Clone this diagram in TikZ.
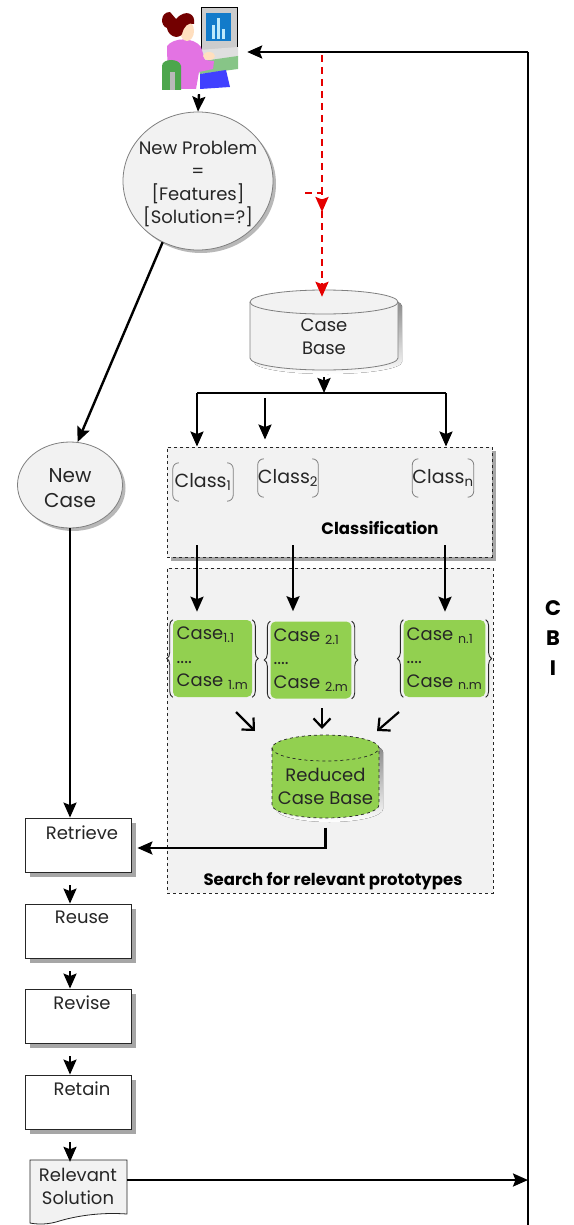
\documentclass[tikz,border=0pt]{standalone}
\usepackage{fontspec}
\setmainfont{Poppins}
\usetikzlibrary{shapes.geometric,shadows,arrows.meta,decorations.pathreplacing}

\definecolor{paleg}{HTML}{F2F2F2}
\definecolor{leaf}{HTML}{92D050}
\definecolor{ink}{HTML}{262626}
\definecolor{rim}{HTML}{7F7F7F}
\definecolor{shade}{HTML}{A6A6A6}

\tikzset{
  lbl/.style={font=\fontsize{18}{23}\selectfont, text=ink, align=center},
  flow/.style={line width=2.4pt, -{Stealth[length=15pt,width=13pt,inset=2.5pt]}},
  wire/.style={line width=2.4pt},
  redflow/.style={line width=2.4pt, red!90!black, dash pattern=on 7pt off 5pt,
                  -{Stealth[length=15pt,width=13pt,inset=2.5pt]}},
  vee/.style={line width=2.2pt, -{Straight Barb[length=9pt,width=17pt]}},
  bubble/.style={ellipse, draw=rim, fill=paleg, line width=0.8pt, inner sep=0pt,
                 drop shadow={shadow xshift=3pt, shadow yshift=-3pt, fill=shade, opacity=0.8}},
  stepbox/.style={rectangle, draw=ink, fill=white, line width=0.8pt,
                  minimum width=106pt, minimum height=54pt,
                  drop shadow={shadow xshift=5pt, shadow yshift=-5pt, fill=shade, opacity=1}},
  panel/.style={rectangle, draw=ink, dashed, fill=paleg, line width=0.9pt},
  casebox/.style={rectangle, rounded corners=5pt, fill=leaf, line width=0.6pt,
                  minimum width=79pt, minimum height=77pt, inner sep=3pt,
                  font=\fontsize{18}{23.5}\selectfont, text=ink, align=left},
  brace/.style={decorate, decoration={brace, amplitude=6pt}, line width=0.9pt, ink},
  brk/.style={line width=0.8pt, rim, rounded corners=6pt},
  classlbl/.style={font=\fontsize{19}{22}\selectfont, text=ink,
                   minimum width=60pt, minimum height=38pt, inner sep=0pt},
  heading/.style={font=\bfseries\fontsize{16.5}{19}\selectfont, text=black},
}

\begin{document}
\begin{tikzpicture}[x=1pt,y=-1pt]
\useasboundingbox (0,0) rectangle (573,1225);

% ---- user at the workstation ----
\node[minimum width=80pt, minimum height=86pt, inner sep=0pt] (user) at (199,47) {};
\begin{scope}
  \fill[gray!40] (201,7) rectangle (237,53);
  \draw[black, line width=0.5pt] (201,7) rectangle (237,53);
  \fill[cyan!60!blue] (206,13) rectangle (231,41);
  \fill[cyan!25] (212,25) rectangle (215,39);
  \fill[cyan!25] (217,18) rectangle (220,39);
  \fill[cyan!25] (222,29) rectangle (225,39);
  \fill[gray!25] (199,50) -- (238,47) -- (238,57) -- (204,62) -- cycle;
  \fill[green!35!gray!70] (196,62) -- (238,56) -- (238,69) -- (200,74) -- cycle;
  \fill[blue!75] (200,74) -- (226,70) -- (230,87) -- (200,89) -- cycle;
  \fill[violet!40!magenta!55] (167,46) .. controls (174,37) and (194,37) .. (201,47)
        -- (205,60) -- (214,61) -- (213,69) -- (199,72) -- (196,89) -- (168,89) -- cycle;
  \fill[orange!25] (209,56) ellipse (6 and 4);
  \fill[green!50!black!70] (162,66) .. controls (162,58) and (180,58) .. (181,66)
        -- (181,90) -- (162,90) -- cycle;
  \fill[gray!55] (170,72) rectangle (175,90);
  \fill[orange!25] (187,31) ellipse (7 and 10);
  \fill[red!45!black] (176,19) .. controls (186,8) and (196,14) .. (194,24)
        .. controls (188,22) and (184,26) .. (182,34) .. controls (178,40) and (168,36) .. (167,28)
        .. controls (160,26) and (160,12) .. (170,12) -- cycle;
\end{scope}

% ---- problem description ----
\node[bubble, minimum width=150pt, minimum height=138pt] (newprob) at (198,181) {};
\node[lbl] (newprobtext) at (198,184) {New Problem\\=\\{}[Features]\\{}[Solution=?]};
\node[bubble, minimum width=105pt, minimum height=86pt] (newcase) at (70,485) {};
\node[lbl, font=\fontsize{20}{25}\selectfont] (newcasetext) at (70,488) {New\\Case};

% ---- case base cylinder ----
\fill[shade] (254,306) -- (254,362) arc[start angle=180,end angle=360,x radius=74pt,y radius=12pt]
      -- (402,306) arc[start angle=0,end angle=180,x radius=74pt,y radius=12pt] -- cycle;
\fill[paleg] (250,302) -- (250,358) arc[start angle=180,end angle=360,x radius=74pt,y radius=12pt]
      -- (398,302) arc[start angle=0,end angle=180,x radius=74pt,y radius=12pt] -- cycle;
\draw[rim, line width=0.8pt] (250,302) -- (250,358) arc[start angle=180,end angle=360,x radius=74pt,y radius=12pt]
      -- (398,302) arc[start angle=0,end angle=180,x radius=74pt,y radius=12pt] -- cycle;
\draw[rim, line width=0.8pt] (250,302) arc[start angle=180,end angle=360,x radius=74pt,y radius=12pt];
\node[lbl, minimum width=148pt, minimum height=80pt] (casebase) at (324,337) {Case\\Base};

% ---- classification panel ----
\node[panel, minimum width=325pt, minimum height=110pt,
      drop shadow={shadow xshift=4pt, shadow yshift=-4pt, fill=shade, opacity=1}] (classpanel) at (329.5,502) {};
\node[heading] (classtitle) at (380,528) {Classification};
\node[classlbl] (c1) at (203,482) {Class\textsubscript{1}};
\node[classlbl] (c2) at (288,478) {Class\textsubscript{2}};
\node[classlbl] (cn) at (443,478) {Class\textsubscript{n}};
\foreach \n in {c1,c2,cn}{
  \draw[brk] ([xshift=6pt]\n.north west) -- (\n.north west) -- (\n.south west) -- ([xshift=6pt]\n.south west);
  \draw[brk] ([xshift=-6pt]\n.north east) -- (\n.north east) -- (\n.south east) -- ([xshift=-6pt]\n.south east);
}

% ---- search panel ----
\node[panel, minimum width=326pt, minimum height=325pt] (searchpanel) at (330,730.5) {};
\node[heading] (searchtitle) at (333,881) {Search for relevant prototypes};

\node[casebox] (case1) at (212.5,658.5)
  {Case\textsubscript{1.1}\\....\\Case \textsubscript{1.m}};
\node[casebox] (case2) at (311,660)
  {Case \textsubscript{2.1}\\....\\Case \textsubscript{2.m}};
\node[casebox] (casen) at (444.5,658.5)
  {Case \textsubscript{n.1}\\....\\Case \textsubscript{n.m}};
\foreach \n in {case1,case2,casen}{
  \draw[brace] (\n.south west) -- (\n.north west);
  \draw[brace] (\n.north east) -- (\n.south east);
}

% ---- reduced case base ----
\fill[shade] (276,752) -- (276,809) arc[start angle=180,end angle=360,x radius=53.5pt,y radius=13pt]
      -- (383,752) arc[start angle=0,end angle=180,x radius=53.5pt,y radius=13pt] -- cycle;
\fill[leaf] (272,748) -- (272,805) arc[start angle=180,end angle=360,x radius=53.5pt,y radius=13pt]
      -- (379,748) arc[start angle=0,end angle=180,x radius=53.5pt,y radius=13pt] -- cycle;
\draw[ink, dashed, line width=0.7pt] (272,748) -- (272,805) arc[start angle=180,end angle=360,x radius=53.5pt,y radius=13pt]
      -- (379,748) arc[start angle=0,end angle=180,x radius=53.5pt,y radius=13pt] -- cycle;
\draw[ink, dashed, line width=0.7pt] (272,748) arc[start angle=180,end angle=360,x radius=53.5pt,y radius=13pt];
\node[lbl, minimum width=107pt, minimum height=83pt] (reduced) at (325.5,786) {Reduced\\Case Base};

% ---- CBR cycle steps ----
\node[stepbox, label={[lbl, anchor=north, yshift=-5pt, xshift=4pt]north:Retrieve}] (retrieve) at (78,845) {};
\node[stepbox, label={[lbl, anchor=north, yshift=-4pt, xshift=4pt]north:Reuse}] (reuse) at (78,931) {};
\node[stepbox, label={[lbl, anchor=north, yshift=-4pt, xshift=4pt]north:Revise}] (revise) at (78,1016) {};
\node[stepbox, label={[lbl, anchor=north, yshift=-4pt, xshift=4pt]north:Retain}] (retain) at (78,1102) {};

% ---- relevant solution (document) ----
\fill[paleg] (30,1160) -- (127,1160) -- (127,1214)
   .. controls (100,1212) and (75,1216) .. (56,1222) .. controls (45,1225) and (35,1224) .. (30,1223) -- cycle;
\draw[ink, line width=0.8pt] (30,1160) -- (127,1160) -- (127,1214)
   .. controls (100,1212) and (75,1216) .. (56,1222) .. controls (45,1225) and (35,1224) .. (30,1223) -- cycle;
\node[lbl, minimum width=97pt, minimum height=50pt, inner sep=0pt] (solution) at (78,1186) {Relevant\\Solution};

% ---- CBI feedback loop ----
\coordinate (loopTop) at (528,52);
\coordinate (loopBot) at (528,1225);
\coordinate (solOut) at (127,1180);
\node[font=\bfseries\fontsize{21}{30}\selectfont, align=center] (cbi) at (553,638) {C\\B\\I};
\draw[wire] (loopTop) -- (loopBot);
\draw[flow] (loopTop) -- ([xshift=8pt]user.east |- loopTop);
\draw[flow] (solOut) -- (loopBot |- solOut);

% ---- flow from the user ----
\draw[flow] ([yshift=-4pt]user.south) -- (newprob.north);
\coordinate (redTop) at (322,55);
\coordinate (redSide) at (305,193);
\draw[redflow] (redTop) -- (redTop |- casebase.north);
\draw[redflow] (redSide) -- (322,193) -- (322,212);
\draw[flow] (newprob.240) -- (newcase.80);

% ---- case base fan-out ----
\coordinate (fork) at (324,393);
\coordinate (forkL) at (197,393);
\coordinate (forkM) at (265,398);
\coordinate (forkR) at (446,393);
\draw[flow] (casebase.south) -- (fork);
\draw[wire] (forkL) -- (forkR);
\draw[flow] (forkL) -- (forkL |- classpanel.north);
\draw[flow] (forkM) -- ([yshift=7pt]forkM |- classpanel.north);
\draw[flow] (forkR) -- (forkR |- classpanel.north);

% ---- classes to case groups ----
\coordinate (d1) at (197,545);
\coordinate (d2) at (293,545);
\coordinate (dn) at (445,545);
\draw[flow] (d1) -- ([yshift=8pt]d1 |- case1.north);
\draw[flow] (d2) -- ([yshift=10pt]d2 |- case2.north);
\draw[flow] (dn) -- ([yshift=8pt]dn |- casen.north);

% ---- case groups merge into the reduced base ----
\draw[vee] (236,712) -- (255,731);
\draw[vee] (322,708) -- (322,729);
\draw[vee] (399,712) -- (377,731);

% ---- reduced base feeds retrieval ----
\draw[flow] (reduced.south) |- ([xshift=6pt,yshift=-3pt]retrieve.east);

% ---- new case and step sequence ----
\draw[flow] (newcase.south) -- (newcase.south |- retrieve.north);
\draw[flow] ([xshift=-8pt,yshift=-13pt]retrieve.south) -- ([xshift=-8pt]reuse.north);
\draw[flow] ([xshift=-8pt,yshift=-13pt]reuse.south) -- ([xshift=-8pt]revise.north);
\draw[flow] ([xshift=-8pt,yshift=-13pt]revise.south) -- ([xshift=-8pt]retain.north);
\draw[flow] ([xshift=-8pt,yshift=-13pt]retain.south) -- ([xshift=-8pt,yshift=-1pt]solution.north);
\end{tikzpicture}
\end{document}
